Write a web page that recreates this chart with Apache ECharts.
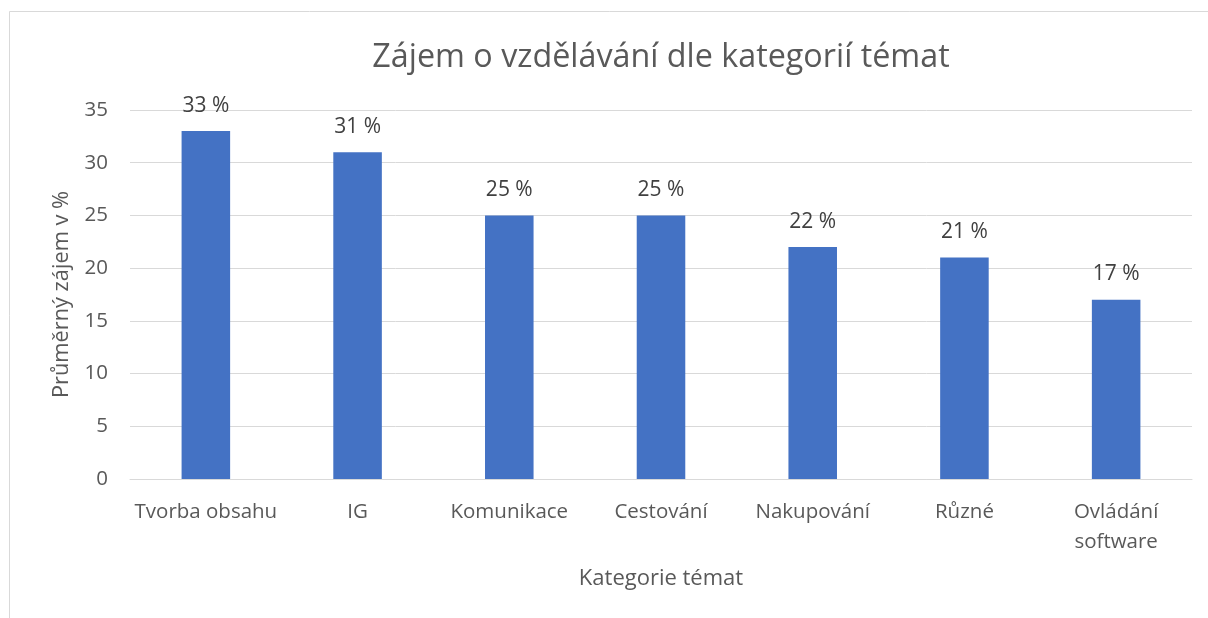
<!DOCTYPE html>
<html><head><meta charset="utf-8">
<script src="https://cdn.jsdelivr.net/npm/echarts@6/dist/echarts.min.js"></script>
<style>html,body{margin:0;padding:0;background:#fff}#c{width:1208px;height:618px}</style>
</head><body><div id="c"></div>
<script>
const titleText = 'Zájem o vzdělávání dle kategorií témat';
const categories = ['Tvorba obsahu', 'IG', 'Komunikace', 'Cestování', 'Nakupování', 'Různé', 'Ovládání\nsoftware'];
const values = [33, 31, 25, 25, 22, 21, 17];
const yTicks = [0, 5, 10, 15, 20, 25, 30, 35];
const yName = 'Průměrný zájem v %';
const xName = 'Kategorie témat';
const font = '"Open Sans", sans-serif';
const chart = echarts.init(document.getElementById('c'));
chart.setOption({
  animation: false,
  backgroundColor: '#fff',
  graphic: [{type: 'rect', shape: {x: 9.5, y: 11.5, width: 1400, height: 800}, style: {fill: 'none', stroke: '#d9d9d9', lineWidth: 1}, silent: true}],
  title: {text: titleText, left: 656, top: 37, textAlign: 'center', textStyle: {fontFamily: font, fontSize: 32.3, fontWeight: 'normal', color: '#595959'}},
  grid: {left: 130, right: 16, top: 110, bottom: 139, containLabel: false},
  xAxis: {
    type: 'category', data: categories,
    name: xName, nameLocation: 'middle', nameGap: 89,
    nameTextStyle: {fontFamily: font, fontSize: 22, color: '#595959'},
    axisLine: {show: true, lineStyle: {color: '#d9d9d9'}},
    axisTick: {show: false},
    axisLabel: {fontFamily: font, fontSize: 20.5, color: '#595959', margin: 18, lineHeight: 30, interval: 0}
  },
  yAxis: {
    type: 'value', min: yTicks[0], max: yTicks[yTicks.length - 1], interval: 5,
    name: yName, nameLocation: 'middle', nameGap: 57, nameRotate: 90,
    nameTextStyle: {fontFamily: font, fontSize: 21.8, color: '#595959'},
    axisLine: {show: false}, axisTick: {show: false},
    axisLabel: {fontFamily: font, fontSize: 20.5, color: '#595959', margin: 22},
    splitLine: {lineStyle: {color: '#d9d9d9', width: 1}}
  },
  series: [{
    type: 'bar', data: values, barWidth: '32%',
    itemStyle: {color: '#4472c4'},
    label: {show: true, position: 'top', distance: 15, formatter: '{c} %', fontFamily: font, fontSize: 21, color: '#404040'}
  }]
});
</script></body></html>
